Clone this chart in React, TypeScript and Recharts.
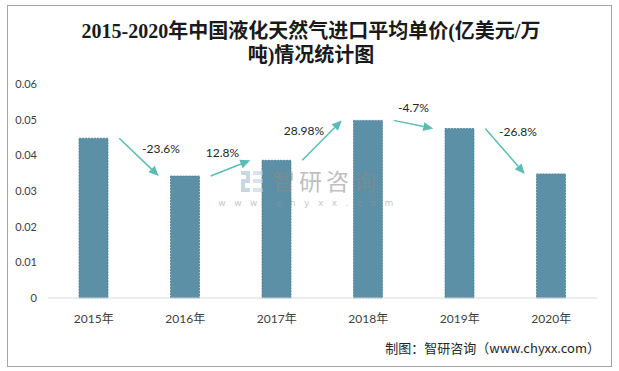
import React from 'react';
import { BarChart, Bar, XAxis, YAxis, ReferenceLine } from 'recharts';

const years = ['2015年', '2016年', '2017年', '2018年', '2019年', '2020年'];
const prices = [0.0448, 0.0342, 0.0386, 0.0498, 0.0475, 0.0348];
const growthLabels = ['-23.6%', '12.8%', '28.98%', '-4.7%', '-26.8%'];
const yTicks = [0, 0.01, 0.02, 0.03, 0.04, 0.05, 0.06];

const titleLines = ['2015-2020年中国液化天然气进口平均单价(亿美元/万', '吨)情况统计图'];
const sourceText = '制图：智研咨询（www.chyxx.com）';

// label placement offsets relative to arrow midpoints (style only)
const labelOffsets = [
  [22, -9],
  [-8, -16],
  [-18, -10],
  [0, -17],
  [13, -20],
];

const data = years.map((y, i) => ({ year: y, value: prices[i] }));

const ARROW = '#5cbcb4';
const BAR = '#5b90a6';
const FONT = "Lato, 'Noto Sans CJK SC', sans-serif";

const makeArrowShape = (idx: number) => (props: any) => {
  const { x1, y1, x2, y2 } = props;
  if ([x1, y1, x2, y2].some((v) => v == null || isNaN(v))) return null;
  const sx = x1 + 25.5;
  const ex = x2 - 26.5;
  const sy = y1;
  const ey = y2;
  const ang = Math.atan2(ey - sy, ex - sx);
  const hl = 10;
  const hw = 4.5;
  const bx = ex - hl * Math.cos(ang);
  const by = ey - hl * Math.sin(ang);
  const px = -Math.sin(ang) * hw;
  const py = Math.cos(ang) * hw;
  const mx = (sx + ex) / 2 + labelOffsets[idx][0];
  const my = (sy + ey) / 2 + labelOffsets[idx][1];
  return (
    <g>
      <line x1={sx} y1={sy} x2={bx} y2={by} stroke={ARROW} strokeWidth={1.5} />
      <polygon
        points={`${ex},${ey} ${bx + px},${by + py} ${bx - px},${by - py}`}
        fill={ARROW}
      />
      <text
        x={mx}
        y={my}
        textAnchor="middle"
        dominantBaseline="central"
        fontSize={12}
        fill="#262626"
        fontFamily={FONT}
      >
        {growthLabels[idx]}
      </text>
    </g>
  );
};

export default function App() {
  return (
    <div style={{ position: 'absolute', left: 0, top: 0, width: 619, height: 371, background: '#fff' }}>
      <BarChart
        width={619}
        height={371}
        data={data}
        margin={{ top: 84, right: 22, bottom: 43, left: 0 }}
      >
        <XAxis
          dataKey="year"
          height={30}
          axisLine={{ stroke: '#d9d9d9' }}
          tickLine={false}
          tickMargin={10}
          tick={{ fill: '#404040', fontSize: 12, fontFamily: FONT }}
        />
        <YAxis
          width={48}
          domain={[0, 0.06]}
          ticks={yTicks}
          axisLine={false}
          tickLine={false}
          tickMargin={5}
          tickFormatter={(v: number) => (v === 0 ? '0' : v.toFixed(2))}
          tick={{ fill: '#404040', fontSize: 11, fontFamily: FONT }}
        />
        <Bar
          dataKey="value"
          fill={BAR}
          stroke="#4a7e95"
          strokeDasharray="2 1"
          strokeWidth={0.8}
          barSize={29}
          isAnimationActive={false}
        />
        {growthLabels.map((_, i) => (
          <ReferenceLine
            key={i}
            segment={[
              { x: years[i], y: prices[i] },
              { x: years[i + 1], y: prices[i + 1] },
            ]}
            ifOverflow="visible"
            shape={makeArrowShape(i)}
          />
        ))}
      </BarChart>
      <svg
        width={619}
        height={371}
        style={{ position: 'absolute', left: 0, top: 0, pointerEvents: 'none' }}
      >
        <rect x={7.5} y={5.5} width={604} height={361} fill="none" stroke="#a6a6a6" strokeWidth={1} />
        {titleLines.map((t, i) => (
          <text
            key={i}
            x={311}
            y={31 + i * 24}
            textAnchor="middle"
            dominantBaseline="central"
            fontSize={20}
            fontWeight="bold"
            fill="#1a1a1a"
            fontFamily="'Liberation Serif', 'Noto Sans CJK SC', serif"
          >
            {t}
          </text>
        ))}
        <text
          x={600}
          y={347}
          textAnchor="end"
          dominantBaseline="central"
          fontSize={13}
          fill="#262626"
          fontFamily="'Noto Sans CJK SC', sans-serif"
        >
          {sourceText}
        </text>
        <g opacity={0.55}>
          <rect x={241} y={171} width={9} height={4} fill="#9cb7cc" />
          <rect x={246} y={171} width={4} height={10} fill="#9cb7cc" />
          <rect x={241} y={179} width={9} height={4} fill="#9cb7cc" />
          <rect x={241} y={179} width={4} height={12} fill="#9cb7cc" />
          <rect x={241} y={188} width={9} height={4} fill="#9cb7cc" />
          <rect x={253} y={171} width={10} height={4} fill="#b6cfe0" />
          <rect x={253} y={179} width={10} height={4} fill="#b6cfe0" />
          <rect x={253} y={188} width={10} height={4} fill="#b6cfe0" />
          <text
            x={326}
            y={180}
            textAnchor="middle"
            dominantBaseline="central"
            fontSize={23}
            letterSpacing={4}
            fill="#8c8c8c"
            fontFamily="'Noto Sans CJK SC', sans-serif"
          >
            智研咨询
          </text>
          <text
            x={310}
            y={203}
            textAnchor="middle"
            dominantBaseline="central"
            fontSize={9}
            letterSpacing={8.5}
            fill="#9a9a9a"
            fontFamily="'DejaVu Sans', sans-serif"
          >
            www.chyxx.com
          </text>
        </g>
      </svg>
    </div>
  );
}
